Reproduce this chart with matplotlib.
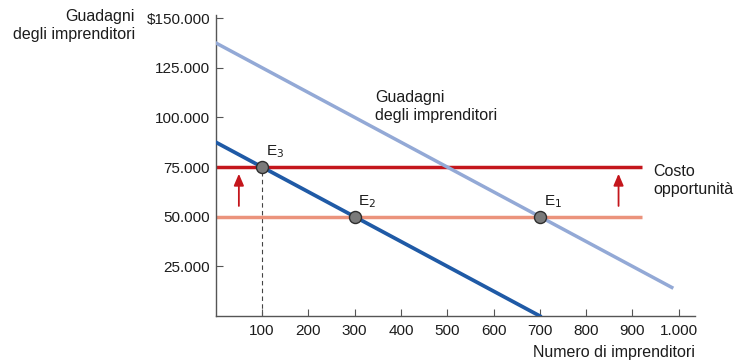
import matplotlib
matplotlib.use("Agg")
import matplotlib.pyplot as plt

plt.rcParams['font.family'] = ['Liberation Sans', 'DejaVu Sans']

# Earnings curves (number of entrepreneurs -> earnings)
earn_low_x = [0, 700]
earn_low_y = [87500, 0]
earn_high_x = [0, 985]
earn_high_y = [137500, 14375]

# Opportunity cost levels
cost_old = 50000
cost_new = 75000
cost_x_end = 920

# Equilibrium points
eq_labels = ["E$_1$", "E$_2$", "E$_3$"]
eq_x = [700, 300, 100]
eq_y = [50000, 50000, 75000]

x_ticks = [100, 200, 300, 400, 500, 600, 700, 800, 900, 1000]
x_tick_labels = ["100", "200", "300", "400", "500", "600", "700", "800", "900", "1.000"]
y_ticks = [25000, 50000, 75000, 100000, 125000, 150000]
y_tick_labels = ["25.000", "50.000", "75.000", "100.000", "125.000", "$150.000"]

arrow_x = [50, 870]

fig = plt.figure(figsize=(7.35, 3.63), dpi=100)
ax = fig.add_axes([0.2935, 0.1295, 0.652, 0.829])
ax.set_xlim(0, 1035)
ax.set_ylim(0, 151500)

dark_blue = "#1f5aa6"
light_blue = "#93a9d6"
dark_red = "#c4161c"
salmon = "#eb937c"
text_col = "#1c1c1c"

ax.plot([0, cost_x_end], [cost_old, cost_old], color=salmon, lw=2.5, solid_capstyle="butt", zorder=2)
ax.plot([0, cost_x_end], [cost_new, cost_new], color=dark_red, lw=2.5, solid_capstyle="butt", zorder=2)
ax.plot(earn_high_x, earn_high_y, color=light_blue, lw=2.5, zorder=3)
ax.plot(earn_low_x, earn_low_y, color=dark_blue, lw=2.7, zorder=3)

# Dashed guide down from E3
ax.plot([eq_x[2], eq_x[2]], [0, eq_y[2]], color="#444444", lw=0.8, ls=(0, (4, 3)), zorder=1)

for ax_x in arrow_x:
    ax.annotate("", xy=(ax_x, 73000), xytext=(ax_x, 54000),
                arrowprops=dict(arrowstyle="-|>,head_width=0.3,head_length=0.7",
                                color=dark_red, lw=1.3), zorder=2)

ax.scatter(eq_x, eq_y, s=75, facecolor="#7a7a7a", edgecolor="#2e2e2e", linewidth=1.0, zorder=5)
for lab, xx, yy in zip(eq_labels, eq_x, eq_y):
    ax.text(xx + 8, yy + 3500, lab, fontsize=11, ha="left", va="bottom", color=text_col)

ax.text(345, 97000, "Guadagni\ndegli imprenditori", fontsize=11.5, ha="left", va="bottom",
        color=text_col, linespacing=1.25)
ax.text(945, 76500, "Costo\nopportunità", fontsize=11.5, ha="left", va="top",
        color=text_col, linespacing=1.25)

ax.set_xticks(x_ticks)
ax.set_xticklabels(x_tick_labels)
ax.set_yticks(y_ticks)
ax.set_yticklabels(y_tick_labels)
ax.tick_params(direction="in", length=5, width=0.8, color="#555555",
               labelsize=11, labelcolor=text_col)
ax.tick_params(axis="y", pad=4)
ax.tick_params(axis="x", pad=6)

for side in ("top", "right"):
    ax.spines[side].set_visible(False)
for side in ("left", "bottom"):
    ax.spines[side].set_color("#555555")
    ax.spines[side].set_linewidth(1.0)

fig.text(135 / 735, 1 - 9 / 363, "Guadagni\ndegli imprenditori", fontsize=11.5,
         ha="right", va="top", color=text_col, linespacing=1.25)
fig.text(695 / 735, 1 - 352 / 363, "Numero di imprenditori", fontsize=11.5,
         ha="right", va="center", color=text_col)

fig.savefig("out.png", dpi=100)
